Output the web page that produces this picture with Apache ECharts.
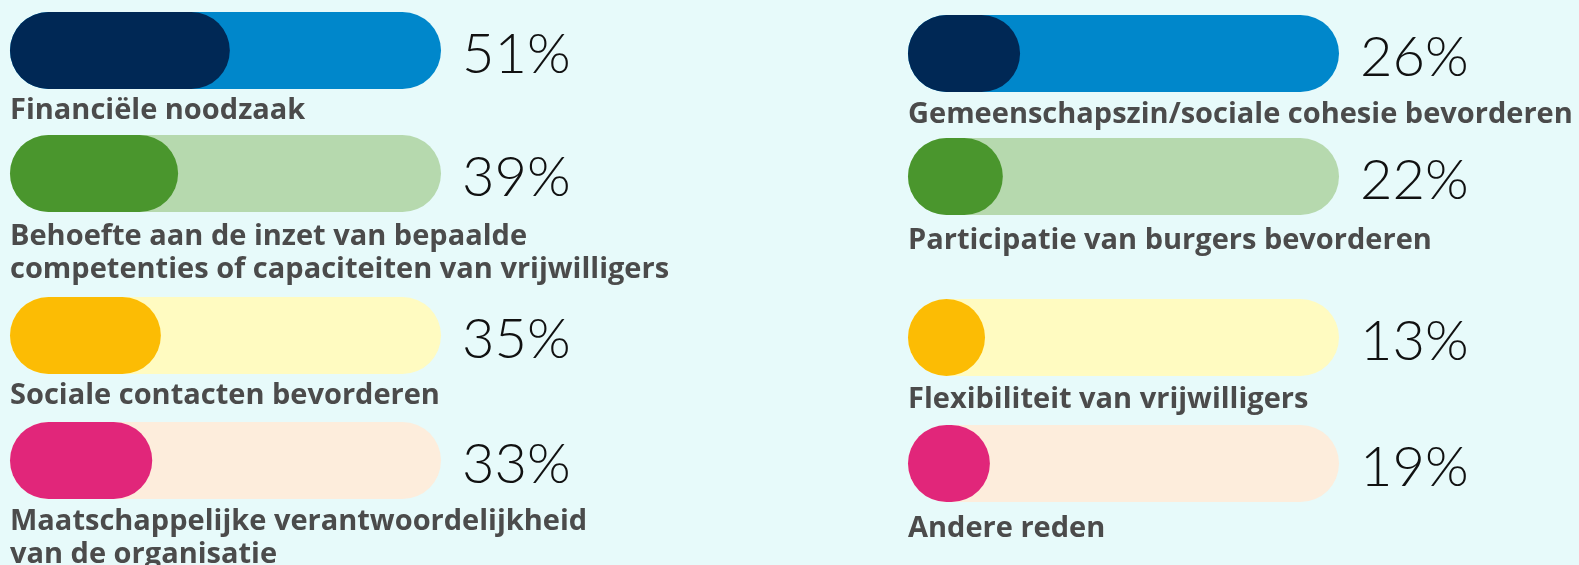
<!DOCTYPE html>
<html>
<head>
<meta charset="utf-8">
<script src="https://cdn.jsdelivr.net/npm/echarts@6/dist/echarts.min.js"></script>
<style>
  html, body { margin:0; padding:0; background:#e7fafa; }
  #chart { width:1579px; height:565px; }
</style>
</head>
<body>
<div id="chart"></div>
<script>
// data
const reasons = [
  'Financiële noodzaak',
  'Behoefte aan de inzet van bepaalde\ncompetenties of capaciteiten van vrijwilligers',
  'Sociale contacten bevorderen',
  'Maatschappelijke verantwoordelijkheid\nvan de organisatie',
  'Gemeenschapszin/sociale cohesie bevorderen',
  'Participatie van burgers bevorderen',
  'Flexibiliteit van vrijwilligers',
  'Andere reden'
];
const percents = [51, 39, 35, 33, 26, 22, 13, 19];

// kleuren per rij (boven -> onder)
const fgColors = ['#002855', '#4a962d', '#fcbc04', '#e1267a'];
const bgColors = ['#0087cb', '#b6d9ae', '#fffbc1', '#fdeddc'];

// layout
const colX = [10, 908];
const barTops = [[12, 135, 297, 422], [15, 138, 299, 425]];
const labelCenters = [[111, 237, 396, 522], [115, 241, 400, 529]];
const BAR_W = 431, BAR_H = 77, LINE_H = 33;

const grids = [], xAxes = [], yAxes = [], series = [], titles = [];

percents.forEach((v, i) => {
  const col = Math.floor(i / 4), row = i % 4;
  grids.push({left: colX[col], top: barTops[col][row], width: BAR_W, height: BAR_H});
  xAxes.push({type:'value', gridIndex:i, min:0, max:100, show:false});
  yAxes.push({type:'category', gridIndex:i, data:[reasons[i]], show:false});
  // drager voor het percentage rechts van de balk
  series.push({
    type:'bar', xAxisIndex:i, yAxisIndex:i, data:[100], barWidth:BAR_H,
    itemStyle:{color:'transparent'},
    label:{
      show:true, position:'right', distance:21, offset:[0,4],
      formatter: () => v + '%',
      fontFamily:'Lato', fontWeight:300, fontSize:56, color:'#111'
    },
    silent:true, animation:false
  });
  series.push({
    type:'bar', xAxisIndex:i, yAxisIndex:i, data:[v], barWidth:BAR_H, barGap:'-100%',
    barMinHeight: BAR_H,
    showBackground:true,
    backgroundStyle:{color:bgColors[row], borderRadius:BAR_H/2},
    itemStyle:{color:fgColors[row], borderRadius:BAR_H/2},
    animation:false
  });
  titles.push({
    text: reasons[i],
    left: colX[col],
    top: labelCenters[col][row] - LINE_H/2,
    textStyle:{fontFamily:'Open Sans', fontWeight:'bold', fontSize:29, color:'#4b4b4b', lineHeight:LINE_H},
    padding:0
  });
});

const chart = echarts.init(document.getElementById('chart'));
chart.setOption({
  backgroundColor:'#e7fafa',
  title: titles,
  grid: grids,
  xAxis: xAxes,
  yAxis: yAxes,
  series: series
});
</script>
</body>
</html>
